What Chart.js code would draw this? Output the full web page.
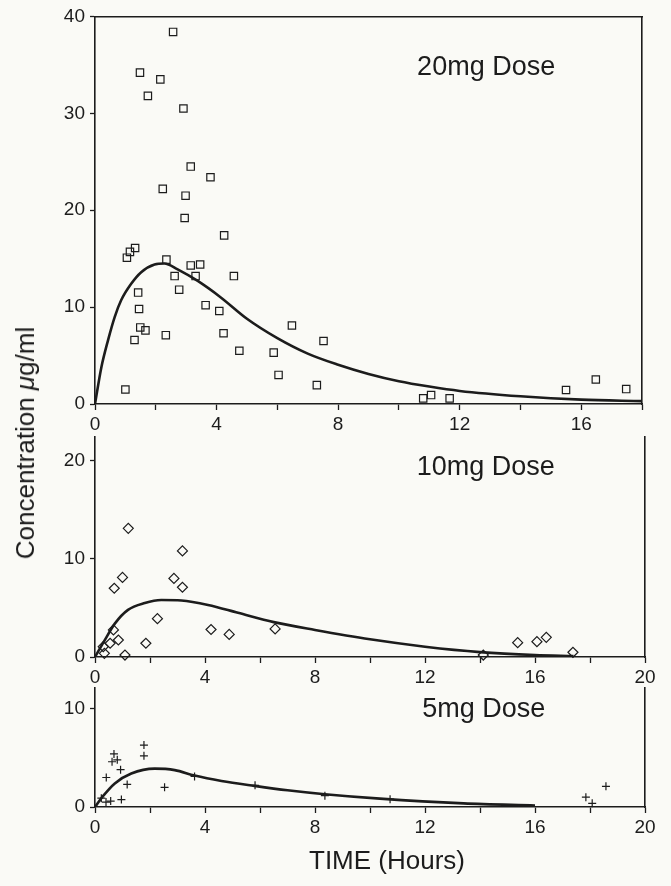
<!DOCTYPE html>
<html>
<head>
<meta charset="utf-8">
<title>Concentration vs time, three doses</title>
<script src="https://cdn.jsdelivr.net/npm/chart.js@4.4.1/dist/chart.umd.min.js"></script>
<style>
  html, body { margin: 0; padding: 0; background: #fafaf6; }
  #page { position: relative; width: 671px; height: 886px; overflow: hidden;
          font-family: 'Liberation Sans', Arial, Helvetica, sans-serif; color: #1c1c1c; }
  canvas { position: absolute; left: 0; }
  #c20 { top: 0; }
  #c10 { top: 415px; }
  #c5  { top: 670px; }
  .ytitle { position: absolute; left: 25px; top: 443px; line-height: 1; font-size: 26px; white-space: nowrap;
            transform: translate(-50%, -50%) rotate(-90deg); }
  .xtitle { position: absolute; left: 387px; top: 860px; line-height: 1; font-size: 26px; white-space: nowrap;
            transform: translate(-50%, -50%); }
</style>
</head>
<body>
<div id="page">
  <canvas id="c20" width="671" height="445"></canvas>
  <canvas id="c10" width="671" height="285"></canvas>
  <canvas id="c5" width="671" height="216"></canvas>
  <div class="ytitle">Concentration <i>μ</i>g/ml</div>
  <div class="xtitle">TIME (Hours)</div>
</div>
<script>
'use strict';

// ---- values (time in hours, concentration in ug/ml) ----

// 20mg dose, measured (squares)
const time20 = [1.0, 1.05, 1.15, 1.32, 1.30, 1.42, 1.45, 1.49, 1.48, 1.66, 1.74, 2.15, 2.23, 2.33, 2.35,
                2.57, 2.62, 2.77, 2.91, 2.95, 2.98, 3.15, 3.15, 3.31, 3.46, 3.64, 3.80, 4.09, 4.23, 4.25,
                4.57, 4.75, 5.88, 6.04, 6.48, 7.30, 7.52, 10.80, 11.06, 11.67, 15.5, 16.48, 17.48];
const conc20 = [1.5, 15.1, 15.7, 16.1, 6.6, 11.5, 9.8, 7.9, 34.2, 7.6, 31.8, 33.5, 22.2, 7.1, 14.9,
                38.4, 13.2, 11.8, 30.5, 19.2, 21.5, 24.5, 14.3, 13.2, 14.4, 10.2, 23.4, 9.6, 7.3, 17.4,
                13.2, 5.5, 5.3, 3.0, 8.1, 1.95, 6.5, 0.58, 0.92, 0.58, 1.44, 2.53, 1.54];
// 20mg dose, fitted curve
const fitTime20 = [0, 0.21, 0.43, 0.65, 0.86, 1.19, 1.52, 1.96, 2.28, 2.72, 3.38, 4.14, 5.0, 6.0, 7.0,
                   8.0, 9.0, 10.0, 11.0, 12.0, 14.0, 16.0, 18.0];
const fitConc20 = [0, 3.8, 6.6, 9.0, 10.7, 12.4, 13.6, 14.4, 14.5, 13.9, 12.7, 11.0, 8.8, 6.8, 5.2,
                   4.05, 3.1, 2.35, 1.8, 1.35, 0.8, 0.45, 0.3];

// 10mg dose, measured (diamonds)
const time10 = [0.30, 0.34, 0.55, 0.67, 0.70, 0.85, 1.0, 1.09, 1.21, 1.85, 2.27, 2.87, 3.18, 3.18,
                4.22, 4.88, 6.55, 14.12, 15.37, 16.07, 16.41, 17.38];
const conc10 = [1.05, 0.37, 1.4, 2.76, 7.0, 1.73, 8.1, 0.2, 13.1, 1.4, 3.9, 8.0, 10.8, 7.1,
                2.8, 2.3, 2.86, 0.2, 1.46, 1.56, 2.0, 0.48];
// 10mg dose, fitted curve
const fitTime10 = [0, 0.35, 0.72, 1.2, 1.81, 2.41, 3.14, 4.11, 5.2, 6.5, 8.0, 10.0, 12.0, 14.0, 16.0, 17.4];
const fitConc10 = [0, 1.7, 3.4, 4.8, 5.5, 5.8, 5.75, 5.3, 4.5, 3.55, 2.75, 1.8, 1.05, 0.5, 0.2, 0.1];

// 5mg dose, measured (crosses)
const time5 = [0.23, 0.4, 0.57, 0.41, 0.62, 0.69, 0.81, 0.93, 0.96, 1.17, 1.78, 1.78, 2.53, 3.62,
               5.82, 8.36, 10.73, 17.85, 18.08, 18.58];
const conc5 = [0.9, 0.5, 0.6, 3.0, 4.6, 5.4, 4.8, 3.8, 0.75, 2.3, 6.3, 5.2, 2.0, 3.1,
               2.2, 1.15, 0.8, 1.0, 0.37, 2.1];
// 5mg dose, fitted curve
const fitTime5 = [0, 0.29, 0.72, 1.32, 2.17, 2.9, 3.62, 4.6, 5.8, 7.0, 8.36, 10.36, 13.4, 16.0];
const fitConc5 = [0, 1.1, 2.4, 3.4, 3.9, 3.75, 3.2, 2.65, 2.15, 1.7, 1.3, 0.85, 0.37, 0.15];

// tick labels
const xLabels = [0, 4, 8, 12, 16, 20];
const yTicks20 = [0, 10, 20, 30, 40];
const yTicks10 = [0, 10, 20];
const yTicks5 = [0, 10];

const INK = '#1c1c1c';
const FONT = "'Liberation Sans', Arial, Helvetica, sans-serif";

(function () {

  function pairs(xs, ys) {
    return xs.map(function (x, i) { return { x: x, y: ys[i] }; });
  }

  // writes "20mg Dose" etc. inside the plot, anchored in data units
  const doseLabel = {
    id: 'doseLabel',
    afterDatasetsDraw: function (chart, args, opts) {
      const ctx = chart.ctx;
      const px = chart.scales.x.getPixelForValue(opts.x);
      const py = chart.scales.y.getPixelForValue(opts.y);
      ctx.save();
      ctx.font = '27px ' + FONT;
      ctx.fillStyle = INK;
      ctx.textAlign = 'left';
      ctx.textBaseline = 'alphabetic';
      ctx.fillText(opts.text, px, py);
      ctx.restore();
    }
  };

  function axisX(max, height) {
    return {
      type: 'linear', position: 'bottom', min: 0, max: max,
      afterFit: function (s) { s.height = height; },
      grid: { drawOnChartArea: false, drawTicks: true, tickLength: 6, tickWidth: 1.3, color: INK, tickColor: INK },
      border: { display: true, color: INK, width: 1.6 },
      ticks: {
        stepSize: 2, autoSkip: false, maxRotation: 0, padding: 3, color: INK,
        font: { family: FONT, size: 19 },
        callback: function (v) { return xLabels.indexOf(v) >= 0 ? String(v) : ''; }
      }
    };
  }

  function axisY(max, ticks) {
    return {
      type: 'linear', position: 'left', min: 0, max: max,
      afterFit: function (s) { s.width = 95; },
      afterBuildTicks: function (s) { s.ticks = ticks.map(function (v) { return { value: v }; }); },
      grid: { drawOnChartArea: false, drawTicks: true, tickLength: 5, tickWidth: 1.3, color: INK, tickColor: INK },
      border: { display: true, color: INK, width: 1.6 },
      ticks: { padding: 5, color: INK, font: { family: FONT, size: 19 } }
    };
  }

  // plain frame line (right side, and top for the first panel)
  function frameAxis(position, size) {
    const horiz = position === 'top';
    return {
      type: 'linear', position: position, min: 0, max: 1,
      afterFit: function (s) { if (horiz) { s.height = size; } else { s.width = size; } },
      grid: { display: true, drawOnChartArea: false, drawTicks: false },
      border: { display: true, color: INK, width: 1.6 },
      ticks: { display: false }
    };
  }

  function drawPanel(id, p) {
    const scales = {
      x: axisX(p.xMax, p.bottomH),
      y: axisY(p.yMax, p.yTicks),
      y2: frameAxis('right', p.rightW)
    };
    if (p.topFrame) {
      scales.x2 = frameAxis('top', p.topH);
    }

    return new Chart(document.getElementById(id), {
      type: 'scatter',
      data: {
        datasets: [{
          label: 'measured',
          data: pairs(p.t, p.c),
          xAxisID: 'x', yAxisID: 'y',
          pointStyle: p.marker,
          pointRadius: p.markerSize,
          pointHoverRadius: p.markerSize,
          pointBorderColor: INK,
          pointBackgroundColor: 'rgba(0,0,0,0)',
          pointBorderWidth: 1.2,
          clip: false
        }, {
          label: 'fit',
          data: pairs(p.ft, p.fc),
          xAxisID: 'x', yAxisID: 'y',
          showLine: true,
          cubicInterpolationMode: 'monotone',
          borderColor: INK,
          borderWidth: 2.6,
          pointRadius: 0,
          fill: false
        }]
      },
      options: {
        responsive: false,
        animation: false,
        events: [],
        layout: { padding: { top: p.topPad, left: 0, right: 0, bottom: 0 } },
        scales: scales,
        plugins: {
          legend: { display: false },
          tooltip: { enabled: false },
          doseLabel: p.label
        }
      },
      plugins: [doseLabel]
    });
  }

  drawPanel('c20', {
    t: time20, c: conc20, ft: fitTime20, fc: fitConc20,
    marker: 'rect', markerSize: 5.2,
    xMax: 18, yMax: 40, yTicks: yTicks20,
    topFrame: true, topH: 14, topPad: 0, bottomH: 41, rightW: 29,
    label: { text: '20mg Dose', x: 10.6, y: 34.0 }
  });

  drawPanel('c10', {
    t: time10, c: conc10, ft: fitTime10, fc: fitConc10,
    marker: 'rectRot', markerSize: 5,
    xMax: 20, yMax: 22.4, yTicks: yTicks10,
    topFrame: false, topPad: 22, bottomH: 43, rightW: 26,
    label: { text: '10mg Dose', x: 11.7, y: 18.5 }
  });

  drawPanel('c5', {
    t: time5, c: conc5, ft: fitTime5, fc: fitConc5,
    marker: 'cross', markerSize: 4,
    xMax: 20, yMax: 12.1, yTicks: yTicks5,
    topFrame: false, topPad: 18, bottomH: 79, rightW: 26,
    label: { text: '5mg Dose', x: 11.9, y: 9.2 }
  });
})();
</script>
</body>
</html>
